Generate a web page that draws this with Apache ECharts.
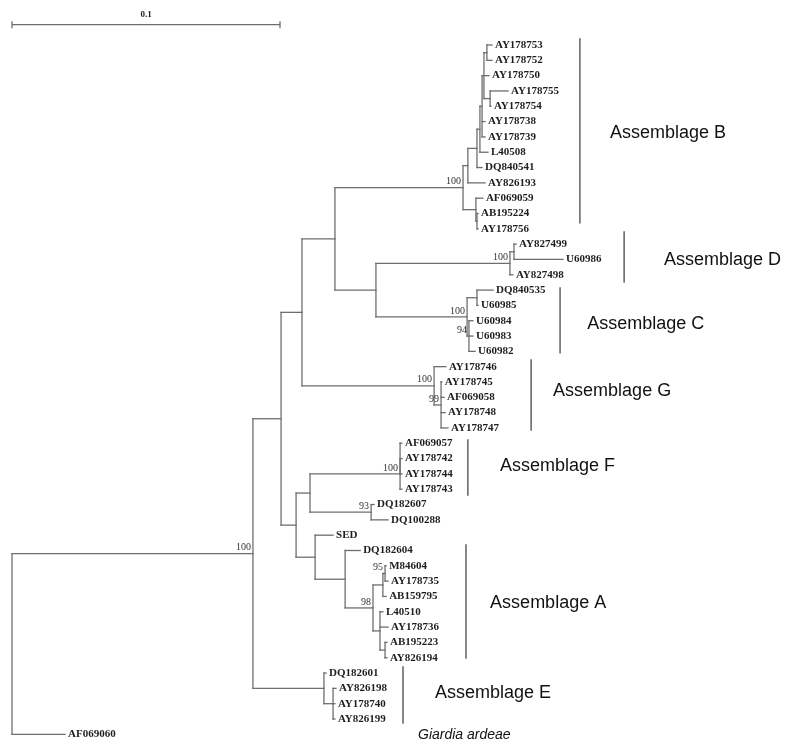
<!DOCTYPE html>
<html><head><meta charset="utf-8">
<script src="https://cdn.jsdelivr.net/npm/echarts@6/dist/echarts.min.js"></script>
<style>html,body{margin:0;padding:0;background:#fff}#c{width:785px;height:744px}</style>
</head><body><div id="c"></div><script>
// ---- tree data: leaves (row order, cumulative distance from root, parent node) ----
const leafNames = ['AY178753','AY178752','AY178750','AY178755','AY178754','AY178738','AY178739','L40508','DQ840541','AY826193','AF069059','AB195224','AY178756',
  'AY827499','U60986','AY827498','DQ840535','U60985','U60984','U60983','U60982',
  'AY178746','AY178745','AF069058','AY178748','AY178747','AF069057','AY178742','AY178744','AY178743',
  'DQ182607','DQ100288','SED','DQ182604','M84604','AY178735','AB159795','L40510','AY178736','AB195223','AY826194',
  'DQ182601','AY826198','AY178740','AY826199','AF069060'];
const leafRows = [0,1,2,3,4,5,6,7,8,9,10,11,12,13,14,15,16,17,18,19,20,21,22,23,24,25,26,27,28,29,30,31,32,33,34,35,36,37,38,39,40,41,42,43,44,45];
const leafDepths = [0.1791,0.1791,0.1780,0.1851,0.1787,0.1765,0.1765,0.1776,0.1754,0.1765,0.1757,0.1739,0.1739,
  0.1881,0.2056,0.1869,0.1795,0.1739,0.1720,0.1720,0.1728,
  0.1619,0.1604,0.1612,0.1616,0.1627,0.1455,0.1455,0.1455,0.1455,
  0.1351,0.1403,0.1198,0.1299,0.1396,0.1403,0.1396,0.1384,0.1403,0.1399,0.1399,
  0.1172,0.1209,0.1205,0.1205,0.0198];
const leafParents = ['B1d','B1d','B1c','B1e','B1e','B1b','B1b','B1a','B1','BB','B2','B2a','B2a',
  'Dd','Dd','D','Ca','Ca','Cb','Cb','Cb',
  'G','Ga','Ga','Ga','Ga','Fa','Fa','Fa','F',
  'DQn','DQn','n7','A','Abb','Abb','Ab','Ac','Ac','Acc','Acc',
  'E','Ea','Ea','Ea','root'];
// ---- internal nodes ----
const nodeIds     = ['root','n1','n2','n3','n4','B','BB','B1','B1a','B1b','B1c','B1d','B1e','B2','B2a','CD','D','Dd','C','Ca','Cb','G','Ga','n5','n6','F','Fa','DQn','n7','A','Aa','Ab','Abb','Ac','Acc','E','Ea'];
const nodeParents = [null,'root','n1','n2','n3','n4','B','BB','B1','B1a','B1b','B1c','B1c','B','B2','n4','CD','D','CD','C','C','n3','G','n2','n5','n6','F','n6','n5','n7','A','Aa','Ab','Aa','Ac','n1','E'];
const nodeDepths  = [0,0.0899,0.1004,0.1082,0.1205,0.1683,0.1701,0.1735,0.1746,0.1754,0.1761,0.1772,0.1784,0.1731,0.1735,0.1358,0.1858,0.1873,0.1698,0.1735,0.1705,0.1575,0.1601,0.1060,0.1112,0.1448,0.1448,0.1340,0.1131,0.1243,0.1347,0.1384,0.1392,0.1373,0.1392,0.1164,0.1198];
const nodeSupport = [null,100,null,null,null,100,null,null,null,null,null,null,null,null,null,null,100,null,100,null,94,100,99,null,null,100,null,93,null,null,98,null,95,null,null,null,null];
// ---- clade annotations ----
const groupNames = ['Assemblage B','Assemblage D','Assemblage C','Assemblage G','Assemblage F','Assemblage A','Assemblage E'];
const outgroupLabel = 'Giardia ardeae';
const scaleBarValue = 0.1;
const scaleBarText = '0.1';

// ---- layout (positions only) ----
const layout = {
  groupBarDepth: [0.2119,0.2284,0.2045,0.1937,0.1701,0.1694,0.1459],
  groupBarRows: [[-0.4,11.6],[12.2,15.47],[15.86,20.1],[20.56,25.13],[25.79,29.38],[32.64,40.02],[40.6,44.26]],
  groupLabelDepth: [0.2231,0.2433,0.2146,0.2019,0.1821,0.1784,0.1578],
  groupLabelRow: [5.74,14.04,18.2,22.6,27.5,36.4,42.3],
  outgroupDepth: 0.1515, outgroupRow: 45.05,
  scaleRow: -1.33, scaleLabelRow: -1.95
};

// ---- build tree geometry ----
const depthOf = {}, children = {};
nodeIds.forEach((id,i)=>{depthOf[id]=nodeDepths[i]; children[id]=[];});
leafNames.forEach((n,i)=>{ children[leafParents[i]].push({leaf:true,i}); });
nodeIds.forEach((id,i)=>{ if(nodeParents[i]) children[nodeParents[i]].push({leaf:false,id}); });
const nodeY = {}, nodeSpan = {};
function yOf(c){ return c.leaf ? leafRows[c.i] : computeY(c.id); }
function computeY(id){
  if(nodeY[id]!==undefined) return nodeY[id];
  const ys = children[id].map(yOf);
  const lo = Math.min(...ys), hi = Math.max(...ys);
  nodeSpan[id]=[lo,hi]; nodeY[id]=(lo+hi)/2; return nodeY[id];
}
computeY('root');
const segs = [];
leafNames.forEach((n,i)=>{ segs.push([depthOf[leafParents[i]], leafRows[i], leafDepths[i], leafRows[i]]); });
nodeIds.forEach((id,i)=>{
  if(nodeParents[i]) segs.push([depthOf[nodeParents[i]], nodeY[id], nodeDepths[i], nodeY[id]]);
  segs.push([nodeDepths[i], nodeSpan[id][0], nodeDepths[i], nodeSpan[id][1]]);
});
const leafData = leafNames.map((n,i)=>[leafDepths[i], leafRows[i]]);
const supIdx = nodeIds.map((id,i)=>i).filter(i=>nodeSupport[i]!==null);
const supData = supIdx.map(i=>[nodeDepths[i], nodeY[nodeIds[i]]]);
const barData = groupNames.map((g,i)=>[layout.groupBarDepth[i], layout.groupBarRows[i][0], layout.groupBarDepth[i], layout.groupBarRows[i][1]]);
const glabData = groupNames.map((g,i)=>[layout.groupLabelDepth[i], layout.groupLabelRow[i]]);

const LINE = '#6e6e6e';
function lineItem(params, api, color, w){
  const a = api.coord([api.value(0), api.value(1)]);
  const b = api.coord([api.value(2), api.value(3)]);
  return {type:'line', shape:{x1:a[0],y1:a[1],x2:b[0],y2:b[1]}, style:{stroke:color, lineWidth:w, lineCap:'square'}};
}
function textEl(x,y,text,font,fill,align,valign){
  return {type:'text', style:{x, y, text, font, fill, align, verticalAlign:valign, textAlign:align, textVerticalAlign:valign}};
}

const chart = echarts.init(document.getElementById('c'), null, {renderer:'canvas'});
chart.setOption({
  animation:false,
  backgroundColor:'#fff',
  grid:{left:12, right:0, top:45, bottom:25},
  xAxis:{type:'value', min:0, max:773/2680, show:false},
  yAxis:{type:'value', min:0, max:44, inverse:true, show:false},
  series:[
    {type:'custom', data:segs, clip:false, renderItem:(p,api)=>lineItem(p,api,LINE,1.3)},
    {type:'custom', data:leafData, clip:false, renderItem:(p,api)=>{
      const c = api.coord([api.value(0), api.value(1)]);
      return textEl(c[0]+3, c[1], leafNames[p.dataIndex], 'bold 11px "Liberation Serif"', '#1e1e1e', 'left', 'middle');
    }},
    {type:'custom', data:supData, clip:false, renderItem:(p,api)=>{
      const c = api.coord([api.value(0), api.value(1)]);
      return textEl(c[0]-2, c[1]-1, String(nodeSupport[supIdx[p.dataIndex]]), '10px "Liberation Serif"', '#333', 'right', 'bottom');
    }},
    {type:'custom', data:barData, clip:false, renderItem:(p,api)=>lineItem(p,api,'#555',1.4)},
    {type:'custom', data:glabData, clip:false, renderItem:(p,api)=>{
      const c = api.coord([api.value(0), api.value(1)]);
      return textEl(c[0], c[1], groupNames[p.dataIndex], '18px "Liberation Sans"', '#111', 'left', 'middle');
    }},
    {type:'custom', data:[[layout.outgroupDepth, layout.outgroupRow]], clip:false, renderItem:(p,api)=>{
      const c = api.coord([api.value(0), api.value(1)]);
      return textEl(c[0], c[1], outgroupLabel, 'italic 14px "Liberation Sans"', '#111', 'left', 'middle');
    }},
    {type:'custom', data:[[0, layout.scaleRow, scaleBarValue, layout.scaleRow]], clip:false, renderItem:(p,api)=>{
      const a = api.coord([api.value(0), api.value(1)]);
      const b = api.coord([api.value(2), api.value(3)]);
      const m = api.coord([(api.value(0)+api.value(2))/2, layout.scaleLabelRow]);
      return {type:'group', children:[
        {type:'line', shape:{x1:a[0],y1:a[1],x2:b[0],y2:b[1]}, style:{stroke:LINE, lineWidth:1.3}},
        {type:'line', shape:{x1:a[0],y1:a[1]-3.5,x2:a[0],y2:a[1]+3.5}, style:{stroke:LINE, lineWidth:1.3}},
        {type:'line', shape:{x1:b[0],y1:b[1]-3.5,x2:b[0],y2:b[1]+3.5}, style:{stroke:LINE, lineWidth:1.3}},
        textEl(m[0], m[1], scaleBarText, 'bold 9px "Liberation Serif"', '#222', 'center', 'middle')
      ]};
    }}
  ]
});
</script></body></html>
